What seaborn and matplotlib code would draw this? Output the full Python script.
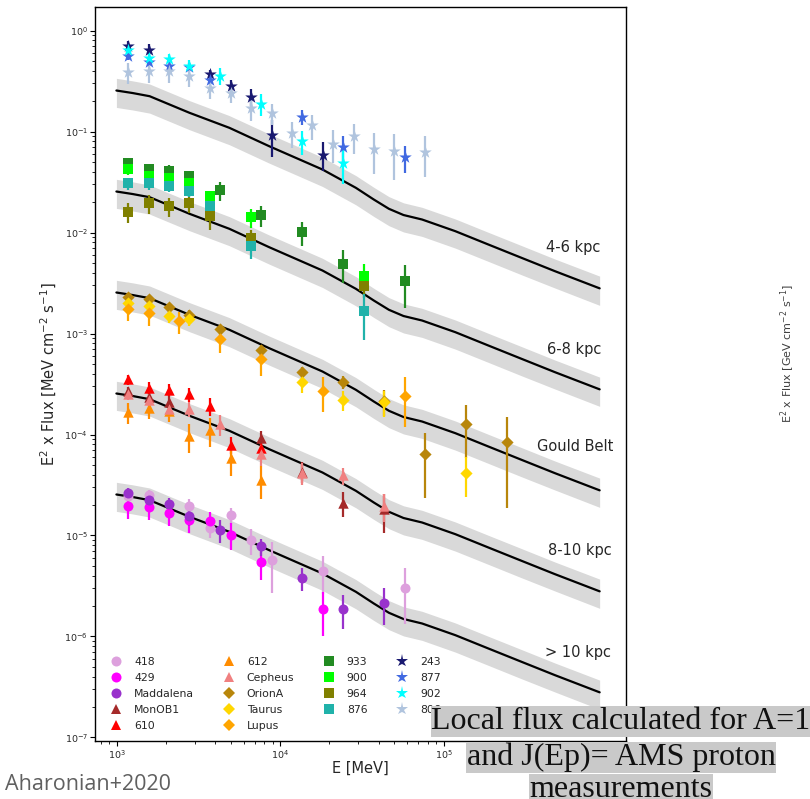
import numpy as np
import pandas as pd
import matplotlib
matplotlib.use("Agg")
import matplotlib.pyplot as plt
import seaborn as sns
from matplotlib.lines import Line2D
from matplotlib.ticker import LogLocator, NullFormatter

# ---------------- data (E in MeV, E^2 x Flux in MeV cm^-2 s^-1) ----------------
# model curve (top region), its band and the normalisation of each region
model_E = [995, 1250, 1589, 2786, 4887, 8570, 18110, 29040, 37400, 46240, 56800,
           73790, 118000, 187900, 299900, 479700, 900000]
model_F = [0.2547, 0.2405, 0.2237, 0.1532, 0.1088, 0.0715, 0.0421, 0.0277, 0.0212,
           0.01717, 0.0149, 0.01345, 0.01030, 0.00760, 0.00561, 0.00414, 0.00280]
model_lo = [0.1732, 0.1635, 0.1521, 0.1042, 0.0740, 0.0486, 0.0286, 0.0188, 0.0144,
            0.01168, 0.01013, 0.00915, 0.00700, 0.00517, 0.00381, 0.00282, 0.00190]
model_hi = [0.3362, 0.3175, 0.2953, 0.2022, 0.1436, 0.0944, 0.0556, 0.0366, 0.0280,
            0.02266, 0.01967, 0.01775, 0.01360, 0.01003, 0.00741, 0.00546, 0.00370]
region_names = ["4-6 kpc", "6-8 kpc", "Gould Belt", "8-10 kpc", "> 10 kpc"]
region_norm = [1.0, 0.1, 0.01, 0.001, 0.0001]

# circles
s418_E = [1172, 1567, 2786, 3724, 4977, 6622, 8851, 18281, 57810]
s418_F = [2.45e-5, 2.49e-5, 1.98e-5, 1.19e-5, 1.59e-5, 8.98e-6, 5.69e-6, 4.43e-6, 3.03e-6]
s418_err = [3e-6, 3e-6, 3e-6, 2.5e-6, 3e-6, 2.5e-6, 3e-6, 1.8e-6, 1.7e-6]
s429_E = [1172, 1567, 2084, 2786, 3724, 4977, 7656, 18281]
s429_F = [1.95e-5, 1.92e-5, 1.68e-5, 1.42e-5, 1.39e-5, 1.02e-5, 5.44e-6, 1.88e-6]
s429_err = [5e-6, 5e-6, 4.5e-6, 3.5e-6, 3e-6, 3e-6, 1.8e-6, 8.8e-7]
madd_E = [1172, 1567, 2084, 2786, 4305, 7656, 13614, 24322, 43251]
madd_F = [2.65e-5, 2.27e-5, 2.07e-5, 1.55e-5, 1.13e-5, 7.83e-6, 3.81e-6, 1.88e-6, 2.16e-6]
madd_err = [3e-6, 3e-6, 3e-6, 3e-6, 2.8e-6, 1.5e-6, 1e-6, 7e-7, 8.5e-7]
# triangles
monob1_E = [1172, 1567, 2084, 7656, 13614, 24322, 43251]
monob1_F = [2.68e-4, 2.36e-4, 2.09e-4, 9.27e-5, 4.3e-5, 2.11e-5, 1.81e-5]
monob1_err = [3e-5, 3e-5, 3e-5, 1.5e-5, 1e-5, 5.8e-6, 7.5e-6]
s610_E = [1172, 1567, 2084, 2786, 3724, 4977, 7656]
s610_F = [3.51e-4, 2.90e-4, 2.79e-4, 2.49e-4, 1.91e-4, 7.96e-5, 7.38e-5]
s610_err = [4e-5, 4e-5, 4e-5, 4e-5, 4e-5, 1.5e-5, 1.5e-5]
s612_E = [1172, 1567, 2084, 2786, 3724, 4977, 7656]
s612_F = [1.66e-4, 1.84e-4, 1.72e-4, 9.62e-5, 1.10e-4, 5.88e-5, 3.58e-5]
s612_err = [4e-5, 4e-5, 4e-5, 3e-5, 3.5e-5, 2e-5, 1.3e-5]
ceph_E = [1172, 1567, 2084, 2786, 4305, 7656, 13614, 24322, 43251]
ceph_F = [2.49e-4, 2.22e-4, 1.80e-4, 1.80e-4, 1.26e-4, 6.34e-5, 4.18e-5, 3.93e-5, 1.95e-5]
ceph_err = [3e-5, 3e-5, 3e-5, 3e-5, 3e-5, 1.5e-5, 1e-5, 7.5e-6, 6e-6]
# diamonds
orion_E = [1172, 1567, 2084, 2786, 4305, 7656, 13614, 24322, 43251, 77268, 137404, 244343]
orion_F = [2.31e-3, 2.22e-3, 1.82e-3, 1.52e-3, 1.10e-3, 6.84e-4, 4.14e-4, 3.33e-4, 2.14e-4,
           6.34e-5, 1.28e-4, 8.47e-5]
orion_err = [2e-4, 2e-4, 2e-4, 2e-4, 1.2e-4, 8e-5, 5e-5, 5e-5, 6e-5, 4e-5, 7e-5, 6.6e-5]
taurus_E = [1172, 1567, 2084, 2786, 13614, 24322, 43251, 137404]
taurus_F = [2.01e-3, 1.86e-3, 1.48e-3, 1.38e-3, 3.30e-4, 2.22e-4, 2.09e-4, 4.18e-5]
taurus_err = [2.5e-4, 2.5e-4, 2e-4, 2e-4, 7e-5, 5e-5, 6e-5, 1.8e-5]
lupus_E = [1172, 1567, 2420, 4305, 7656, 18281, 57810]
lupus_F = [1.73e-3, 1.60e-3, 1.32e-3, 8.87e-4, 5.53e-4, 2.68e-4, 2.43e-4]
lupus_err = [4e-4, 4e-4, 3.3e-4, 2.4e-4, 1.7e-4, 1e-4, 1.25e-4]
# squares
s933_E = [1172, 1567, 2084, 2786, 4305, 7656, 13614, 24322, 57810]
s933_F = [0.0490, 0.0421, 0.0411, 0.0361, 0.0262, 0.0148, 0.0101, 0.00493, 0.00330]
s933_err = [0.006, 0.005, 0.005, 0.005, 0.0055, 0.0034, 0.0027, 0.0018, 0.0015]
s900_E = [1172, 1567, 2084, 2786, 3724, 6622, 32509]
s900_F = [0.0421, 0.0361, 0.0348, 0.0310, 0.0229, 0.0142, 0.00375]
s900_err = [0.005, 0.004, 0.004, 0.004, 0.003, 0.003, 0.0011]
s964_E = [1172, 1567, 2084, 2786, 3724, 6622, 32509]
s964_F = [0.0159, 0.0194, 0.0182, 0.0197, 0.0145, 0.00887, 0.00294]
s964_err = [0.0035, 0.004, 0.004, 0.004, 0.004, 0.0018, 0.0007]
s876_E = [1172, 1567, 2084, 2786, 3724, 6622, 32509]
s876_F = [0.0306, 0.0306, 0.0292, 0.0256, 0.0182, 0.00732, 0.00166]
s876_err = [0.004, 0.004, 0.004, 0.003, 0.003, 0.0019, 0.0008]
# stars
s243_E = [1172, 1567, 3724, 4977, 6622, 8851, 18281]
s243_F = [0.70, 0.648, 0.375, 0.285, 0.221, 0.0934, 0.0592]
s243_err = [0.08, 0.08, 0.036, 0.042, 0.04, 0.037, 0.019]
s877_E = [1172, 1567, 2084, 2786, 3724, 13614, 24322, 57810]
s877_F = [0.557, 0.486, 0.450, 0.437, 0.327, 0.140, 0.0700, 0.0557]
s877_err = [0.05, 0.04, 0.04, 0.04, 0.03, 0.024, 0.02, 0.017]
s902_E = [1172, 1567, 2084, 2786, 4305, 7656, 13614, 24322]
s902_F = [0.638, 0.537, 0.525, 0.450, 0.358, 0.189, 0.0801, 0.0490]
s902_err = [0.09, 0.06, 0.06, 0.06, 0.07, 0.045, 0.022, 0.019]
s806_E = [1172, 1567, 2084, 2786, 3724, 4977, 6622, 8851, 11776, 15740, 21038, 28119,
          37411, 50003, 77268]
s806_F = [0.386, 0.395, 0.395, 0.353, 0.271, 0.242, 0.170, 0.151, 0.0971, 0.115, 0.0760,
          0.0898, 0.0674, 0.0638, 0.0624]
s806_err = [0.093, 0.09, 0.09, 0.075, 0.06, 0.05, 0.042, 0.035, 0.028, 0.032, 0.027,
            0.030, 0.029, 0.031, 0.027]

legend_labels = ["418", "429", "Maddalena", "MonOB1", "610",
                 "612", "Cepheus", "OrionA", "Taurus", "Lupus",
                 "933", "900", "964", "876",
                 "243", "877", "902", "806"]

# ---------------- styles ----------------
series = [
    (s418_E, s418_F, s418_err, "o", "#dda0dd", 7.2),
    (s429_E, s429_F, s429_err, "o", "#ff00ff", 7.2),
    (madd_E, madd_F, madd_err, "o", "#9932cc", 7.2),
    (monob1_E, monob1_F, monob1_err, "^", "#a52a2a", 7.5),
    (s610_E, s610_F, s610_err, "^", "#ff0000", 7.5),
    (s612_E, s612_F, s612_err, "^", "#ff8c00", 7.5),
    (ceph_E, ceph_F, ceph_err, "^", "#f08080", 7.5),
    (orion_E, orion_F, orion_err, "D", "#b8860b", 6.2),
    (taurus_E, taurus_F, taurus_err, "D", "#ffd700", 6.2),
    (lupus_E, lupus_F, lupus_err, "D", "#ffa500", 6.2),
    (s933_E, s933_F, s933_err, "s", "#228b22", 6.8),
    (s900_E, s900_F, s900_err, "s", "#00ff00", 6.8),
    (s964_E, s964_F, s964_err, "s", "#808000", 6.8),
    (s876_E, s876_F, s876_err, "s", "#20b2aa", 6.8),
    (s243_E, s243_F, s243_err, "*", "#191970", 9.5),
    (s877_E, s877_F, s877_err, "*", "#4169e1", 9.5),
    (s902_E, s902_F, s902_err, "*", "#00ffff", 9.5),
    (s806_E, s806_F, s806_err, "*", "#b0c4de", 9.5),
]

sns.set_style("ticks")
plt.rcParams["font.family"] = ["DejaVu Sans"]
plt.rcParams["mathtext.fontset"] = "dejavusans"

fig = plt.figure(figsize=(8.1, 7.99), dpi=100)
ax = fig.add_axes([95 / 810, 1 - 741 / 799, (626.3 - 95) / 810, (741 - 7) / 799])

# model curves with bands
for norm in region_norm:
    lo = np.array(model_lo) * norm
    hi = np.array(model_hi) * norm
    ax.fill_between(model_E, lo, hi, color="#d9d9d9", lw=0, zorder=1)
    df = pd.DataFrame({"E": model_E, "F": np.array(model_F) * norm})
    sns.lineplot(data=df, x="E", y="F", ax=ax, color="black", lw=1.6, sort=False,
                 zorder=2, legend=False)

# data points
handles = []
for (E, F, err, mk, col, ms), lab in zip(series, legend_labels):
    ax.errorbar(E, F, yerr=err, fmt="none", ecolor=col, elinewidth=1.6, capsize=0,
                zorder=3)
    sns.scatterplot(x=E, y=F, marker=mk, color=col, s=ms ** 2, linewidth=0, ax=ax,
                    zorder=4, legend=False)
    handles.append(Line2D([], [], marker=mk, color=col, linestyle="none",
                          markersize=ms, markeredgewidth=0, label=lab))

ax.set_xscale("log")
ax.set_yscale("log")
ax.set_xlim(736, 1.31e6)
ax.set_ylim(9.23e-8, 1.71)

ax.xaxis.set_major_locator(LogLocator(base=10, numticks=20))
ax.xaxis.set_minor_locator(LogLocator(base=10, subs=np.arange(2, 10), numticks=100))
ax.yaxis.set_major_locator(LogLocator(base=10, numticks=20))
ax.yaxis.set_minor_locator(LogLocator(base=10, subs=np.arange(2, 10), numticks=100))
ax.xaxis.set_minor_formatter(NullFormatter())
ax.yaxis.set_minor_formatter(NullFormatter())
ax.tick_params(axis="both", which="major", labelsize=6.8, length=3.5, width=0.8,
               direction="out", color="black", pad=1.5)
ax.tick_params(axis="both", which="minor", length=2, width=0.6, direction="out",
               color="black")
for sp in ax.spines.values():
    sp.set_color("black")
    sp.set_linewidth(1.0)

ax.set_xlabel("E [MeV]", fontsize=10.5, labelpad=0)
ax.set_ylabel("E$^2$ x Flux [MeV cm$^{-2}$ s$^{-1}$]", fontsize=10.5)
ax.yaxis.set_label_coords(-0.068, 0.5)

# region labels
label_pos = [(4.23e5, 7.03e-3), (4.29e5, 6.87e-4), (3.72e5, 7.69e-5),
             (4.35e5, 7.03e-6), (4.17e5, 6.87e-7)]
for name, (lx, ly) in zip(region_names, label_pos):
    ax.text(lx, ly, name, fontsize=10.5, ha="left", va="center", zorder=5)

ax.legend(handles=handles, loc="lower left", bbox_to_anchor=(0.0158, 0.0075), ncol=4,
          frameon=False, fontsize=7.8, handlelength=1.6, handletextpad=0.85,
          columnspacing=2.4, labelspacing=0.56, borderpad=0.4, borderaxespad=0)

# extra figure texts
fig.text(788 / 810, 1 - 353 / 799, "E$^2$ x Flux [GeV cm$^{-2}$ s$^{-1}$]", rotation=90,
         ha="center", va="center", fontsize=8, color="#404040")
fig.text(5 / 810, 1 - 784 / 799, "Aharonian+2020", ha="left", va="center",
         fontsize=15.5, color="#606060", family=["Open Sans", "DejaVu Sans"])
box = dict(facecolor="#c9c9c9", edgecolor="none", pad=0.5)
for txt, yb in [("Local flux calculated for A=1", 729),
                ("and J(Ep)= AMS proton", 765),
                ("measurements", 797)]:
    fig.text(621 / 810, 1 - yb / 799, txt, ha="center", va="baseline", fontsize=23,
             family=["Liberation Serif", "DejaVu Serif"], color="#111111", bbox=box,
             zorder=10)

fig.savefig("out.png", dpi=100)
